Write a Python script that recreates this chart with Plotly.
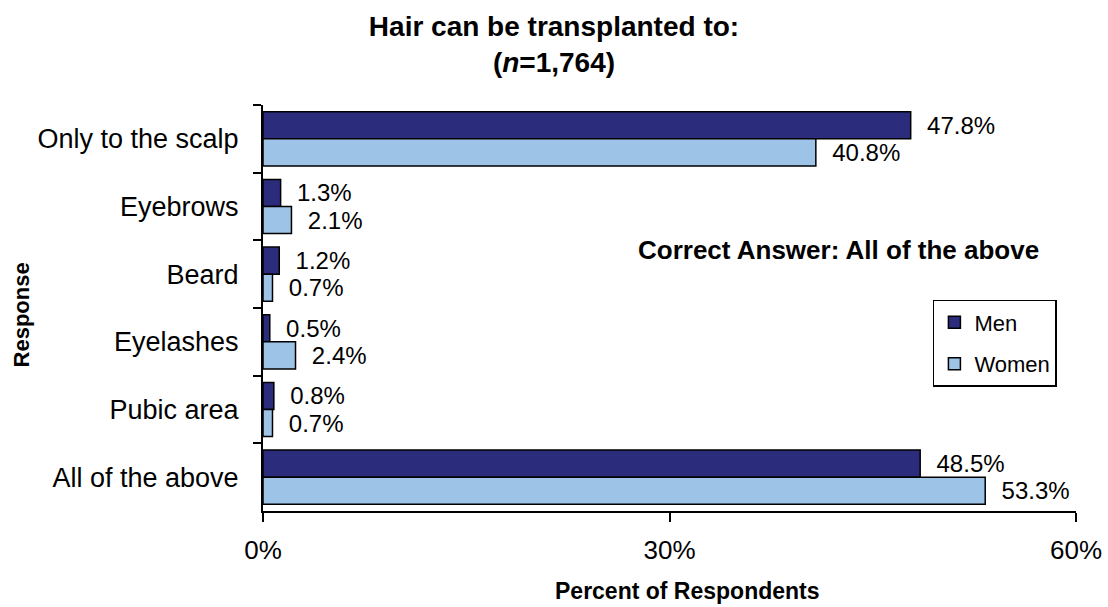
import plotly.graph_objects as go

responses = [
    "Only to the scalp",
    "Eyebrows",
    "Beard",
    "Eyelashes",
    "Pubic area",
    "All of the above",
]
men = [47.8, 1.3, 1.2, 0.5, 0.8, 48.5]
women = [40.8, 2.1, 0.7, 2.4, 0.7, 53.3]

COLORS = {"men": "#2B2C7C", "women": "#9DC3E6"}

fig = go.Figure()
for name, vals, col in [("Men", men, COLORS["men"]), ("Women", women, COLORS["women"])]:
    fig.add_trace(
        go.Bar(
            name=name,
            legendgroup=name,
            y=responses,
            x=vals,
            orientation="h",
            marker=dict(color=col, line=dict(color="black", width=1.5)),
            text=[f"  {v:.1f}%" for v in vals],
            textposition="outside",
            textfont=dict(size=24, color="black"),
            constraintext="none",
            cliponaxis=False,
        )
    )

fig.update_layout(
    width=1108,
    height=607,
    margin=dict(l=263, r=32, t=105, b=96),
    plot_bgcolor="white",
    paper_bgcolor="white",
    font=dict(family="Arial, Liberation Sans, sans-serif", color="black"),
    barmode="group",
    bargap=0.2,
    bargroupgap=0,
    title=dict(
        text="<b>Hair can be transplanted to:<br>(<i>n</i>=1,764)</b>",
        x=0.5,
        xanchor="center",
        y=0.941,
        yanchor="middle",
        font=dict(size=28),
        automargin=False,
    ),
    legend=dict(
        x=0.824,
        y=0.52,
        xanchor="left",
        yanchor="top",
        bordercolor="black",
        borderwidth=1.5,
        bgcolor="white",
        font=dict(size=22),
        itemwidth=30,
        tracegroupgap=10,
        traceorder="grouped",
    ),
    showlegend=True,
)

fig.update_xaxes(
    range=[0, 60],
    tickvals=[0, 30, 60],
    ticktext=["0%", "30%", "60%"],
    ticks="outside",
    ticklen=9,
    tickwidth=2,
    tickcolor="black",
    showline=True,
    linecolor="black",
    linewidth=2,
    showgrid=False,
    zeroline=False,
    tickfont=dict(size=26),
    ticklabelstandoff=6,
    automargin=False,
)

fig.update_yaxes(
    autorange="reversed",
    categoryorder="array",
    categoryarray=responses,
    ticks="outside",
    tickson="boundaries",
    ticklen=8,
    tickwidth=2,
    tickcolor="black",
    showline=True,
    linecolor="black",
    linewidth=2,
    showgrid=False,
    tickfont=dict(size=27),
    ticklabelstandoff=17,
    automargin=False,
)

fig.add_annotation(
    text="<b>Percent of Respondents</b>",
    xref="paper",
    yref="paper",
    x=0.522,
    y=-0.198,
    xanchor="center",
    yanchor="middle",
    showarrow=False,
    font=dict(size=23),
)

fig.add_annotation(
    text="<b>Response</b>",
    xref="paper",
    yref="paper",
    x=-0.297,
    y=0.483,
    xanchor="center",
    yanchor="middle",
    textangle=-90,
    showarrow=False,
    font=dict(size=22),
)

fig.add_annotation(
    text="<b>Correct Answer: All of the above</b>",
    xref="paper",
    yref="paper",
    x=0.957,
    y=0.643,
    xanchor="right",
    yanchor="middle",
    showarrow=False,
    font=dict(size=26),
)

fig.write_html(
    "out.html",
    config={"displayModeBar": False},
    post_script="document.body.style.margin='0px';",
)
